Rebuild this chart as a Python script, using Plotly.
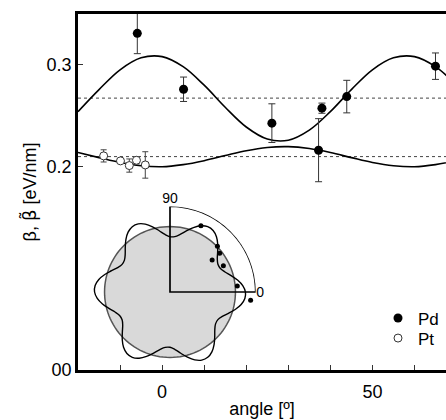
import plotly.graph_objects as go

# ---------------- data ----------------
# Pd measurements (filled circles)
pd_angle = [-5.9, 5.1, 26.1, 37.2, 38.0, 43.9, 65.0]
pd_beta = [0.331, 0.276, 0.2427, 0.2161, 0.2574, 0.2688, 0.2987]
pd_err = [0.020, 0.012, 0.019, 0.031, 0.005, 0.016, 0.013]

# Pt measurements (open circles)
pt_angle = [-13.9, -9.9, -7.8, -6.1, -4.0]
pt_beta = [0.2105, 0.2056, 0.2010, 0.2062, 0.2016]
pt_err = [0.006, 0.002, 0.0065, 0.0036, 0.013]

# fitted curves, read every 5 degrees
curve_angle = [-20, -15, -10, -5, 0, 5, 10, 15, 20, 25, 30, 35, 40, 45, 50, 55, 60, 65, 70]
pd_curve = [0.2540, 0.2757, 0.2951, 0.3069, 0.3081, 0.2982, 0.2800, 0.2583, 0.2389, 0.2271,
            0.2259, 0.2358, 0.2540, 0.2757, 0.2951, 0.3069, 0.3081, 0.2982, 0.2800]
pt_curve = [0.2138, 0.2088, 0.2040, 0.2008, 0.1998, 0.2019, 0.2058, 0.2108, 0.2156, 0.2188,
            0.2196, 0.2177, 0.2138, 0.2088, 0.2040, 0.2008, 0.1998, 0.2019, 0.2058]

# mean values (dotted lines)
pd_mean = 0.2673
pt_mean = 0.2098

# axis ticks
x_ticks = [-20, -10, 0, 10, 20, 30, 40, 50, 60]
x_ticklabels = ["", "", "0", "", "", "", "", "50", ""]
y_ticks = [0.0, 0.2, 0.3]
y_ticklabels = ["00", "0.2", "0.3"]

# inset: one 60-degree period of the Pd fit (angles 0..55) repeated for 6-fold symmetry
period_angle = [0, 5, 10, 15, 20, 25, 30, 35, 40, 45, 50, 55]
period_pd = pd_curve[4:16]
polar_range = 0.35

FONT = "Liberation Sans, Arial, sans-serif"

fig = go.Figure()

# fitted curves
fig.add_trace(go.Scatter(x=curve_angle, y=pd_curve, mode="lines", line=dict(color="black", width=1.6, shape="spline"),
                         showlegend=False, hoverinfo="skip"))
fig.add_trace(go.Scatter(x=curve_angle, y=pt_curve, mode="lines", line=dict(color="black", width=1.6, shape="spline"),
                         showlegend=False, hoverinfo="skip"))

# data points
fig.add_trace(go.Scatter(x=pd_angle, y=pd_beta, mode="markers", name="Pd", legend="legend",
                         marker=dict(color="black", size=9, symbol="circle"),
                         error_y=dict(type="data", array=pd_err, color="#333", thickness=1, width=3.5)))
fig.add_trace(go.Scatter(x=pt_angle, y=pt_beta, mode="markers", name="Pt", legend="legend2",
                         marker=dict(color="white", size=8, symbol="circle", line=dict(color="#333", width=1)),
                         error_y=dict(type="data", array=pt_err, color="#444", thickness=1, width=3)))

# mean dotted lines
for m in (pd_mean, pt_mean):
    fig.add_shape(type="line", xref="paper", x0=0, x1=1, yref="y", y0=m, y1=m,
                  line=dict(color="#444", width=1, dash="dot"), layer="below")

# ---------------- inset polar ----------------
theta_full = [a + 60 * k for k in range(6) for a in period_angle] + [360]
r_full = period_pd * 6 + [period_pd[0]]
circ_theta = list(range(0, 361, 3))
circ_r = [pd_mean] * len(circ_theta)

fig.add_trace(go.Scatterpolar(r=circ_r, theta=circ_theta, mode="lines", fill="toself",
                              fillcolor="#d9d9d9", line=dict(color="#555", width=1.5),
                              showlegend=False, hoverinfo="skip", subplot="polar"))
fig.add_trace(go.Scatterpolar(r=r_full, theta=theta_full, mode="lines",
                              line=dict(color="black", width=1.4, shape="spline"),
                              showlegend=False, hoverinfo="skip", subplot="polar"))
# quarter frame
arc_theta = list(range(90, -1, -2))
frame_theta = arc_theta + [0, 90]
frame_r = [polar_range] * len(arc_theta) + [0, polar_range]
fig.add_trace(go.Scatterpolar(r=frame_r, theta=frame_theta, mode="lines",
                              line=dict(color="black", width=1.7),
                              showlegend=False, hoverinfo="skip", subplot="polar"))
fig.add_trace(go.Scatterpolar(r=pd_beta, theta=pd_angle, mode="markers",
                              marker=dict(color="black", size=5),
                              showlegend=False, hoverinfo="skip", subplot="polar"))

# geometry
W, H = 446, 420
ml, mr, mt, mb = 78, 0, 14, 30
pw, ph = W - ml - mr, H - mt - mb
axis_bottom_px = 370
cx, cy, rad = 170, 292, 85.7

def px_x(p):
    return (p - ml) / pw

def px_y(p):
    return (H - mb - p) / ph

leg_common = dict(xanchor="left", yanchor="top", bgcolor="rgba(0,0,0,0)", font=dict(size=17),
                  itemsizing="trace")

fig.update_layout(
    width=W, height=H,
    margin=dict(l=ml, r=mr, t=mt, b=mb, pad=0),
    paper_bgcolor="white", plot_bgcolor="white",
    font=dict(family=FONT, size=18, color="black"),
    showlegend=True,
    legend=dict(x=px_x(378), y=px_y(300.5), **leg_common),
    legend2=dict(x=px_x(378), y=px_y(320.5), **leg_common),
    xaxis=dict(range=[-20, 67.5], tickvals=x_ticks, ticktext=x_ticklabels, ticks="inside", ticklen=5,
               tickwidth=1, tickcolor="#333", showline=True, linecolor="black", linewidth=2.5, mirror=True,
               showgrid=False, zeroline=False, domain=[0, 1], ticklabelstandoff=4,
               title=dict(text="angle [º]", font=dict(size=18), standoff=2)),
    yaxis=dict(range=[0, 0.35], tickvals=y_ticks, ticktext=y_ticklabels, ticks="inside", ticklen=5,
               tickwidth=1, tickcolor="#333", showline=True, linecolor="black", linewidth=2.5, mirror=False,
               showgrid=False, zeroline=False,
               domain=[px_y(axis_bottom_px), 1],
               title=dict(text='β, <span style="font-family:DejaVu Sans">β̃</span> [eV/nm]',
                          font=dict(size=18), standoff=6)),
    polar=dict(
        domain=dict(x=[px_x(cx - rad), px_x(cx + rad)],
                    y=[px_y(cy + rad), px_y(cy - rad)]),
        bgcolor="rgba(0,0,0,0)",
        radialaxis=dict(range=[0, polar_range], visible=False, showgrid=False),
        angularaxis=dict(tickvals=[0, 90], ticktext=["0", "90"], ticks="", showline=False, showgrid=False,
                         rotation=0, direction="counterclockwise", tickfont=dict(size=14)),
    ),
)

fig.write_html("out.html")
